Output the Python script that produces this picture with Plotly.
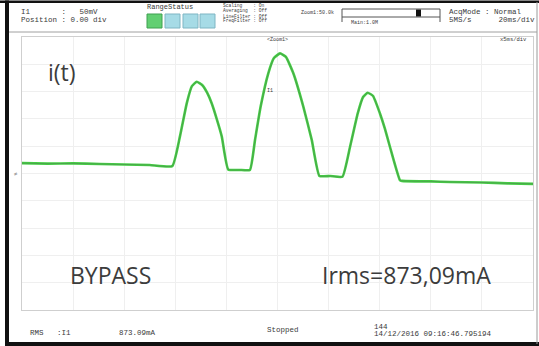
import plotly.graph_objects as go

# Captured waveform: time in ms (20 ms/div, 10 div), current in vertical divisions
time_ms = [0.0, 10.0, 20.0, 30.5, 40.0, 50.0, 58.8,
           61.8, 64.5, 66.5, 68.4, 70.5, 72.5, 74.2, 76.2, 78.2, 80.7,
           85.3, 89.2,
           91.2, 93.4, 96.4, 98.6, 101.0, 103.3, 106.2, 110.1, 113.4, 116.4,
           120.6, 125.4,
           128.4, 131.4, 133.5, 135.3, 137.4, 140.1, 142.0, 144.0, 147.9,
           148.7, 160.0, 167.5, 180.0, 190.0, 200.0]
current_div = [0.38, 0.36, 0.37, 0.35, 0.33, 0.31, 0.27,
               1.35, 2.58, 3.20, 3.36, 3.24, 2.95, 2.58, 2.00, 1.35, 0.15,
               0.13, 0.13,
               1.23, 2.45, 3.67, 4.23, 4.40, 4.27, 3.67, 2.45, 1.23, -0.09,
               -0.09, -0.12,
               0.98, 2.20, 2.80, 2.96, 2.84, 2.20, 1.65, 0.98, -0.24,
               -0.27, -0.29, -0.31, -0.33, -0.36, -0.38]

W, H = 539, 346
L, R, T, B = 22, 6, 37, 36
PW = W - L - R
PH = H - T - B


def px(x):
    return (x - L) / PW


def py(y):
    return (H - B - y) / PH


MONO = "Liberation Mono"
TXT = "#3a3a3a"

fig = go.Figure()
fig.add_trace(go.Scatter(x=time_ms, y=current_div, mode="lines",
                         line=dict(color="#45d045", width=2.6, shape="spline", smoothing=0.4),
                         hoverinfo="skip"))
fig.add_trace(go.Scatter(x=time_ms, y=current_div, mode="lines",
                         line=dict(color="rgba(80,110,80,0.5)", width=0.9, shape="spline", smoothing=0.4),
                         hoverinfo="skip"))

annotations = []


def text(x, y, s, size=8, family=MONO, color=TXT, anchor="left"):
    annotations.append(dict(x=px(x), y=py(y), xref="paper", yref="paper",
                            text=s.replace(" ", "\u00a0"), showarrow=False,
                            xanchor=anchor, yanchor="middle", borderpad=0,
                            font=dict(family=family, size=size, color=color)))


# header
text(20, 12, "I1       :   50mV", size=7.5)
text(20, 19.5, "Position : 0.00 div", size=7.5)
text(146, 7, "RangeStatus", size=7)
text(222, 6, "Scaling    : On", size=4.6)
text(222, 11, "Averaging  : Off", size=4.6)
text(222, 16, "LineFilter : Off", size=4.6)
text(222, 21, "FreqFilter : Off", size=4.6)
text(300, 12.5, "Zoom1:50.0k", size=5)
text(350, 23.5, "Main:1.0M", size=5)
text(448, 12, "AcqMode : Normal", size=7.5)
text(448, 19.5, "5MS/s      20ms/div", size=7.5)

# plot labels
text(277, 40, "<Zoom1>", size=5, anchor="center")
text(528, 40, "x5ms/div", size=5.5, anchor="right")
text(266, 91.5, "I1", size=5)
text(16, 174.5, "≠", size=6, color="#888888", anchor="center")

# footer
text(29, 333, "RMS   :I1", size=7.5)
text(118, 333, "873.09mA", size=7.5)
text(266, 330, "Stopped", size=7.5)
text(373, 327, "144", size=7.5)
text(373, 334, "14/12/2016 09:16:46.795194", size=7.5)

# large captions
text(62, 72, "i(t)", size=23, family="Open Sans", color="#3c3c3c", anchor="center")
text(110, 275, "BYPASS", size=23, family="Open Sans", color="#3c3c3c", anchor="center")
text(406, 275, "Irms=873,09mA", size=23, family="Open Sans", color="#3c3c3c", anchor="center")

shapes = []


def rect(x0, y0, x1, y1, fill, line=None, lw=0):
    shapes.append(dict(type="rect", xref="paper", yref="paper",
                       x0=px(x0), x1=px(x1), y0=py(y1), y1=py(y0),
                       fillcolor=fill, line=dict(color=line or fill, width=lw),
                       layer="above"))


def hline(x0, x1, y, color, lw=1):
    shapes.append(dict(type="line", xref="paper", yref="paper",
                       x0=px(x0), x1=px(x1), y0=py(y), y1=py(y),
                       line=dict(color=color, width=lw), layer="above"))


def vline(x, y0, y1, color, lw=1):
    shapes.append(dict(type="line", xref="paper", yref="paper",
                       x0=px(x), x1=px(x), y0=py(y0), y1=py(y1),
                       line=dict(color=color, width=lw), layer="above"))


# outer frame
rect(0, 0.5, 539, 3, "#111111")
rect(5, 0.5, 9, 346, "#111111")
rect(5, 342, 539, 346, "#111111")
vline(537, 2, 344, "#9a9a9a", 1)
hline(9, 537, 32, "#a0a0a0", 1)

# range status boxes
rect(147, 14, 162, 28, "#62cf72", "#3fa050", 1)
for x0 in (165, 183, 200):
    rect(x0, 14, x0 + 15, 28, "#a6dbe6", "#7fb5c3", 1)

# zoom position bar
rect(342, 9, 440, 17, "rgba(0,0,0,0)", "#555555", 1)
vline(342, 17, 22, "#555555", 1)
vline(440, 17, 22, "#555555", 1)
rect(416, 9.5, 421, 16.5, "#111111")

fig.update_layout(
    width=W, height=H,
    margin=dict(l=L, r=R, t=T, b=B),
    paper_bgcolor="#ffffff",
    plot_bgcolor="#ffffff",
    showlegend=False,
    annotations=annotations,
    shapes=shapes,
    xaxis=dict(range=[0, 200], dtick=20, showgrid=True, gridcolor="#efefef",
               gridwidth=1, zeroline=False, showticklabels=False, ticks="",
               showline=True, linecolor="#cfcfcf", mirror=True),
    yaxis=dict(range=[-5, 5], dtick=1, showgrid=True, gridcolor="#efefef",
               gridwidth=1, zeroline=False, showticklabels=False, ticks="",
               showline=True, linecolor="#cfcfcf", mirror=True),
)

fig.write_html("out.html")
